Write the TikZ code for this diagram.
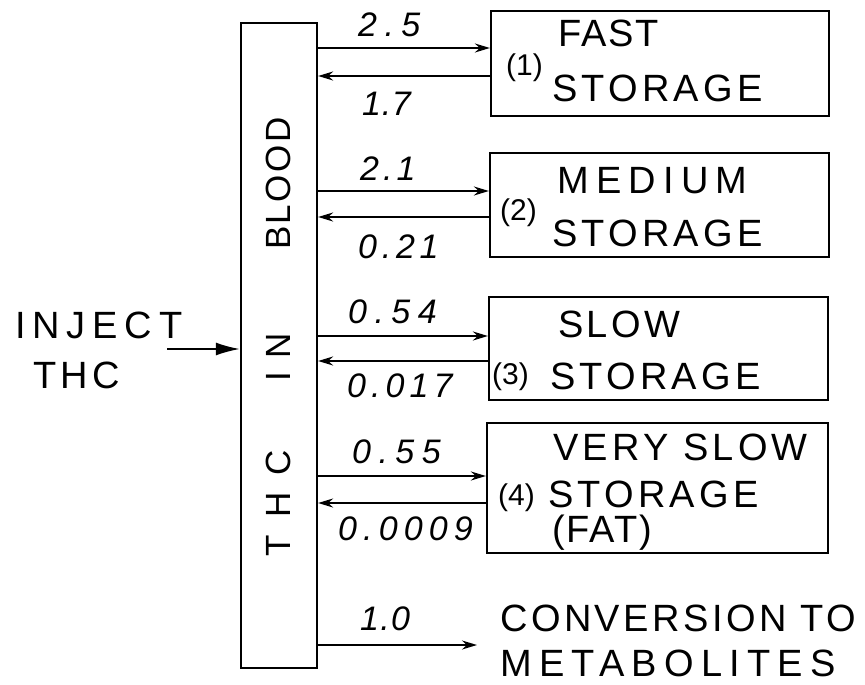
\documentclass[tikz,border=0pt]{standalone}
\usepackage{fontspec}
\setmainfont{Liberation Sans}
\usetikzlibrary{calc,arrows.meta}
\newcommand{\lsp}[1]{\addfontfeature{LetterSpace=#1}}
\begin{document}
\begin{tikzpicture}[x=1pt,y=-1pt,
  box/.style={draw,line width=2.2pt,rectangle,inner sep=0pt},
  txt/.style={anchor=base west,inner sep=0pt,font=\fontsize{38}{40}\selectfont},
  num/.style={anchor=base west,inner sep=0pt,font=\fontsize{34}{36}\selectfont\itshape},
  idx/.style={anchor=base west,inner sep=0pt,font=\fontsize{30}{32}\selectfont},
  vtxt/.style={anchor=base west,inner sep=0pt,rotate=90,font=\fontsize{35}{37}\selectfont},
  flow/.style={line width=1.8pt,-{Stealth[length=15pt,width=9pt]}},
  injarrow/.style={line width=2pt,-{Latex[length=24pt,width=13pt]}},
]
\useasboundingbox (0,0) rectangle (865,685);

% compartments
\node[box, minimum width=76pt, minimum height=645pt] (blood) at (279,345.5) {};
\node[box, minimum width=338pt, minimum height=105pt] (b1) at (660,63.5) {};
\node[box, minimum width=339pt, minimum height=104pt] (b2) at (659.5,205) {};
\node[box, minimum width=339pt, minimum height=103pt] (b3) at (658.5,348.5) {};
\node[box, minimum width=341pt, minimum height=130pt] (b4) at (657.5,488) {};

% blood label
\node[vtxt] (vthc) at (290,557) {\lsp{50}THC};
\node[vtxt] (vin) at (290,382) {\lsp{40}IN};
\node[vtxt] (vblood) at (290,250) {\lsp{7}BLOOD};

% box texts
\node[idx] (i1) at (506,76) {(1)};
\node[txt] (t1a) at (558,47) {\lsp{5}FAST};
\node[txt] (t1b) at (552,102) {\lsp{11}STORAGE};
\node[idx] (i2) at (500,220) {(2)};
\node[txt] (t2a) at (557,193) {\lsp{19}MEDIUM};
\node[txt] (t2b) at (552,246) {\lsp{11}STORAGE};
\node[idx] (i3) at (492,384) {(3)};
\node[txt] (t3a) at (558,337) {\lsp{9}SLOW};
\node[txt] (t3b) at (550,389) {\lsp{11}STORAGE};
\node[txt] (t4a) at (553,460) {\lsp{11}VERY SLOW};
\node[idx] (i4) at (498,505) {(4)};
\node[txt] (t4b) at (548,507) {\lsp{11}STORAGE};
\node[txt] (t4c) at (552,542) {\lsp{5}(FAT)};

% flows
\coordinate (o1) at ($(b1.west)+(0,-15.5)$);
\coordinate (r1) at ($(b1.west)+(0,12.5)$);
\coordinate (o2) at ($(b2.west)+(0,-14)$);
\coordinate (r2) at ($(b2.west)+(0,12)$);
\coordinate (o3) at ($(b3.west)+(0,-12.5)$);
\coordinate (r3) at ($(b3.west)+(0,12.5)$);
\coordinate (o4) at ($(b4.west)+(0,-12)$);
\coordinate (r4) at ($(b4.west)+(0,15)$);
\draw[flow] (o1 -| blood.east) -- (o1);
\draw[flow] (r1) -- (r1 -| blood.east);
\draw[flow] (o2 -| blood.east) -- (o2);
\draw[flow] (r2) -- (r2 -| blood.east);
\draw[flow] (o3 -| blood.east) -- (o3);
\draw[flow] (r3) -- (r3 -| blood.east);
\draw[flow] (o4 -| blood.east) -- (o4);
\draw[flow] (r4) -- (r4 -| blood.east);

\coordinate (met) at (477,645);
\draw[flow] (met -| blood.east) -- (met);

\coordinate (inj) at (167,349);
\draw[injarrow] (inj) -- (inj -| blood.west);

% rate labels
\node[num] (n1) at (358,37) {\lsp{22}2.5};
\node[num] (n2) at (362,115) {\lsp{2}1.7};
\node[num] (n3) at (360,180) {\lsp{12}2.1};
\node[num] (n4) at (358,258) {\lsp{14}0.21};
\node[num] (n5) at (348,323) {\lsp{22}0.54};
\node[num] (n6) at (347,397) {\lsp{15}0.017};
\node[num] (n7) at (352,463) {\lsp{22}0.55};
\node[num] (n8) at (338,540) {\lsp{18}0.0009};
\node[num] (n9) at (360,630) {\lsp{4}1.0};

% input and output texts
\node[txt] (inj1) at (15,338) {\lsp{18}INJECT};
\node[txt] (inj2) at (33,388) {\lsp{12}THC};
\node[txt] (conv1) at (500,631) {\lsp{9}CONVERSION TO};
\node[txt] (conv2) at (500,676) {\lsp{19}METABOLITES};
\end{tikzpicture}
\end{document}
